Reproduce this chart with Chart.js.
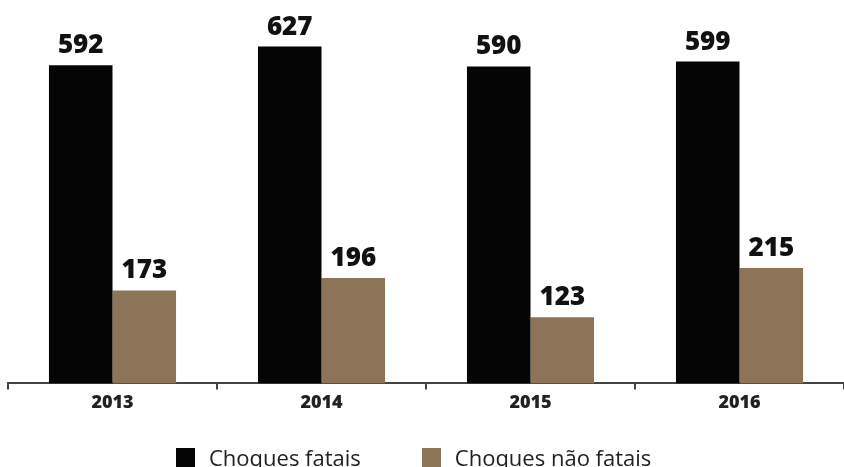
<!DOCTYPE html>
<html>
<head>
<meta charset="utf-8">
<script src="https://cdn.jsdelivr.net/npm/chart.js@4/dist/chart.umd.min.js"></script>
<style>
  html, body { margin: 0; padding: 0; background: #fff; overflow: hidden; }
  #wrap { position: relative; width: 844px; height: 467px; }
  #legend { position: absolute; left: 176px; top: 446px; display: flex; align-items: center;
            font-family: "Open Sans", sans-serif; font-size: 22px; line-height: 22px; color: #222; white-space: nowrap; }
  .box { width: 19px; height: 19px; margin-right: 14px; display: inline-block; }
  .item { display: flex; align-items: center; }
</style>
</head>
<body>
<div id="wrap">
  <canvas id="c" width="844" height="467"></canvas>
  <div id="legend"></div>
</div>
<script>
const categories = ["2013", "2014", "2015", "2016"];
const seriesNames = ["Choques fatais", "Choques não fatais"];
const fatais = [592, 627, 590, 599];
const naoFatais = [173, 196, 123, 215];
const colors = ["#050505", "#8d7459"];

const valueLabels = {
  id: "valueLabels",
  afterDatasetsDraw(chart) {
    const ctx = chart.ctx;
    ctx.save();
    ctx.font = "800 26px 'Open Sans', sans-serif";
    ctx.fillStyle = "#111";
    ctx.textAlign = "center";
    ctx.textBaseline = "alphabetic";
    chart.data.datasets.forEach((ds, di) => {
      chart.getDatasetMeta(di).data.forEach((bar, i) => {
        ctx.fillText(String(ds.data[i]), bar.x, bar.y - 12);
      });
    });
    ctx.restore();
  }
};

new Chart(document.getElementById("c"), {
  type: "bar",
  data: {
    labels: categories,
    datasets: [
      { label: seriesNames[0], data: fatais, backgroundColor: colors[0] },
      { label: seriesNames[1], data: naoFatais, backgroundColor: colors[1] }
    ]
  },
  options: {
    responsive: false,
    animation: false,
    layout: { padding: { left: 8, right: 0, top: 10, bottom: 50 } },
    datasets: { bar: { categoryPercentage: 0.608, barPercentage: 1.0 } },
    plugins: { legend: { display: false }, tooltip: { enabled: false } },
    scales: {
      x: {
        grid: { display: true, drawOnChartArea: false, drawTicks: true, tickLength: 6, color: "#444", lineWidth: 2 },
        border: { display: true, color: "#444", width: 2 },
        ticks: { color: "#222", font: { family: "'Open Sans', sans-serif", size: 18, weight: "800" }, padding: 3 }
      },
      y: { display: false, min: 0, max: 695 }
    }
  },
  plugins: [valueLabels]
});

const legend = document.getElementById("legend");
seriesNames.forEach((name, i) => {
  const item = document.createElement("div");
  item.className = "item";
  if (i > 0) item.style.marginLeft = "61px";
  const box = document.createElement("span");
  box.className = "box";
  box.style.background = colors[i];
  const txt = document.createElement("span");
  txt.textContent = name;
  item.appendChild(box);
  item.appendChild(txt);
  legend.appendChild(item);
});
</script>
</body>
</html>
